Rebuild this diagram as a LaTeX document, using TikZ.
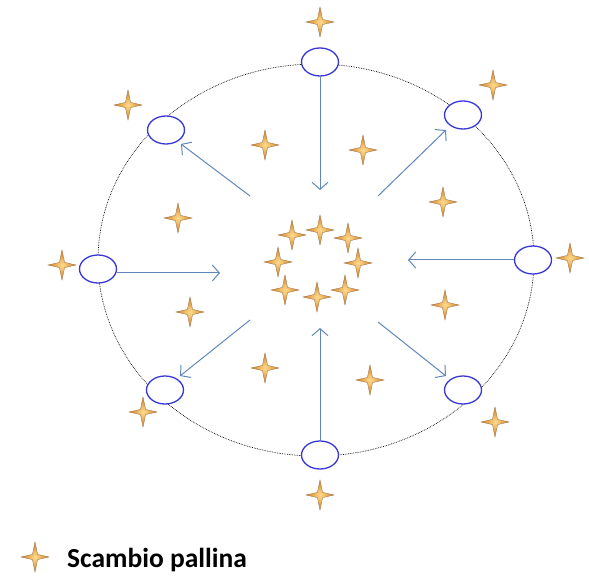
\documentclass[tikz,border=0pt]{standalone}
\usepackage{fontspec}
\setmainfont{Carlito}
\usetikzlibrary{arrows.meta,shapes.geometric}
\definecolor{arrowblue}{RGB}{95,135,190}
\definecolor{ringblue}{RGB}{55,55,215}
\definecolor{starin}{RGB}{255,220,140}
\definecolor{starout}{RGB}{205,125,40}
\definecolor{staredge}{RGB}{150,100,55}
\tikzset{
  posnode/.style={ellipse, draw=ringblue, line width=1.3pt, fill=white, minimum width=37pt, minimum height=28pt, inner sep=0pt},
  flow/.style={draw=arrowblue, line width=1pt, -{Straight Barb[length=7pt,width=16pt]}},
  pics/starmark/.style={code={
    \shade[inner color=starin, outer color=starout, draw=staredge, line width=0.3pt]
      (0,-15) -- (2.6,-2.6) -- (14,0) -- (2.6,2.6) -- (0,15) -- (-2.6,2.6) -- (-14,0) -- (-2.6,-2.6) -- cycle;
  }}
}
\begin{document}
\begin{tikzpicture}[x=1pt,y=-1pt]
\useasboundingbox (0,0) rectangle (589,577);
% big ellipse
\draw[densely dotted, line width=0.7pt] (316,260) ellipse [x radius=218, y radius=196];
% position nodes
\node[posnode] (n) at (320,62) {};
\node[posnode] (ne) at (463,115) {};
\node[posnode] (e) at (533,260) {};
\node[posnode] (se) at (463,390) {};
\node[posnode] (s) at (320,455) {};
\node[posnode] (sw) at (165,390) {};
\node[posnode] (w) at (98,269) {};
\node[posnode] (nw) at (166,130) {};
% free ends
\coordinate (cn) at (320,190);
\coordinate (cne) at (378,196);
\coordinate (ce) at (408,260);
\coordinate (cse) at (378,322);
\coordinate (cs) at (320,328);
\coordinate (csw) at (250,320);
\coordinate (cw) at (220,273);
\coordinate (cnw) at (250,196);
\coordinate (hne) at (446,130);
\coordinate (hse) at (446,376);
\coordinate (hsw) at (180,376);
\coordinate (hnw) at (181,144);
% arrows
\draw[flow] (n) -- (cn);
\draw[flow] (cne) -- (hne);
\draw[flow] (e) -- (ce);
\draw[flow] (cse) -- (hse);
\draw[flow] (s) -- (cs);
\draw[flow] (csw) -- (hsw);
\draw[flow] (w.east |- cw) -- (cw);
\draw[flow] (cnw) -- (hnw);
% stars outside
\foreach \p in {(320,22),(493,85),(128,105),(62,265),(570,258),(143,412),(495,422),(320,495)}
  \pic at \p {starmark};
% stars inside
\foreach \p in {(265,145),(363,150),(178,218),(443,202),(190,312),(445,305),(265,368),(370,380)}
  \pic at \p {starmark};
% centre ring
\foreach \p in {(292,235),(320,230),(348,238),(278,262),(358,263),(285,290),(317,297),(345,290)}
  \pic at \p {starmark};
% legend
\pic at (35,557) {starmark};
\node[anchor=base west, inner sep=0pt, font=\fontsize{27.5}{32}\selectfont\bfseries] (leg) at (67,567) {Scambio pallina};
\end{tikzpicture}
\end{document}
